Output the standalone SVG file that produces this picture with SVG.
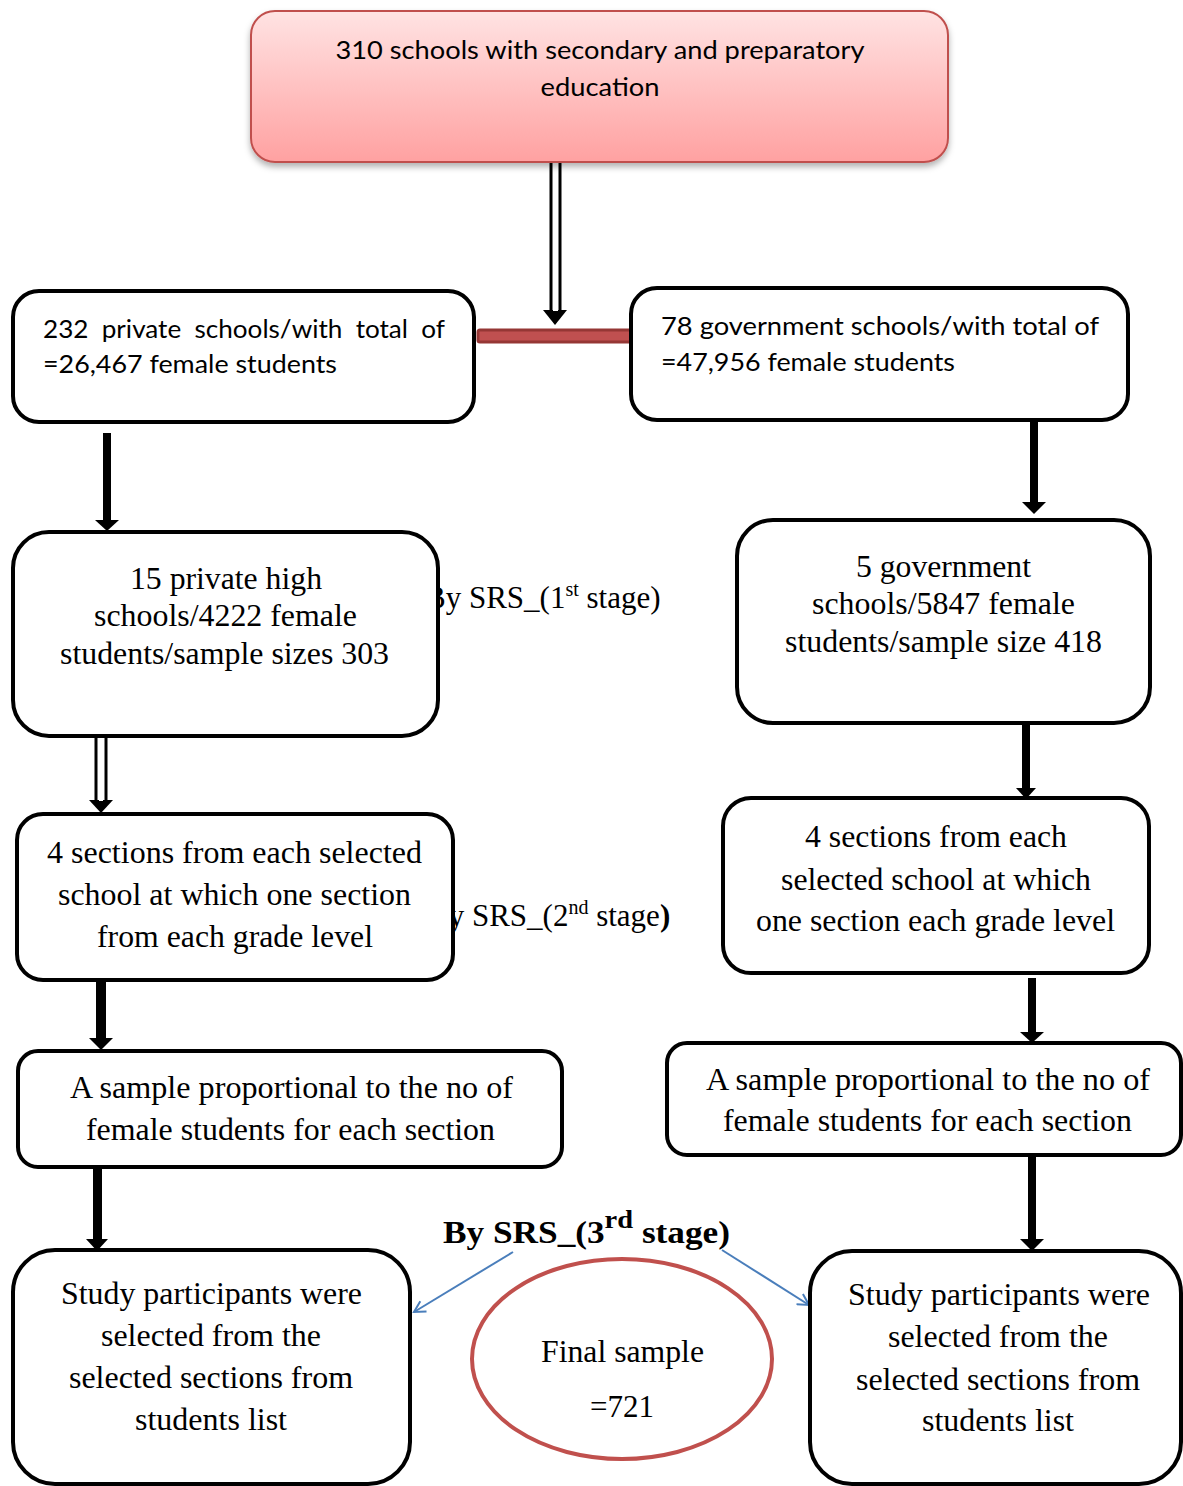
<svg xmlns="http://www.w3.org/2000/svg" width="1183" height="1486" viewBox="0 0 1183 1486">
<defs>
<linearGradient id="pink" x1="0" y1="0" x2="0" y2="1">
<stop offset="0" stop-color="#ffe3e3"/>
<stop offset="1" stop-color="#ffa1a1"/>
</linearGradient>
<filter id="sh" x="-5%" y="-10%" width="110%" height="130%">
<feDropShadow dx="0" dy="4" stdDeviation="3" flood-color="#000" flood-opacity="0.3"/>
</filter>
<marker id="blue" markerWidth="14" markerHeight="14" refX="12" refY="7" orient="auto" markerUnits="userSpaceOnUse">
<path d="M1,1 L12,7 L1,13" fill="none" stroke="#4a7ebb" stroke-width="2"/>
</marker>
</defs>
<style>
.box{fill:#fff;stroke:#000;stroke-width:4}
.cal{font-family:Lato,"Open Sans",sans-serif;font-size:25px;fill:#000}
.tm{font-family:"Liberation Serif","Times New Roman",serif;font-size:31px;fill:#000}
.c{text-anchor:middle}
.sh{fill:#000}
</style>
<rect width="1183" height="1486" fill="#fff"/>

<g id="labels">
<text class="tm" x="425" y="608">By SRS_(1<tspan font-size="20" dy="-12">st</tspan><tspan dy="12"> stage)</tspan></text>
<text class="tm" x="428" y="926">By SRS_(2<tspan font-size="20" dy="-12">nd</tspan><tspan dy="12"> stage</tspan><tspan font-weight="bold">)</tspan></text>
<text class="tm" x="443" y="1243" font-weight="bold" font-size="38" textLength="287" lengthAdjust="spacingAndGlyphs">By SRS_(3<tspan font-size="25" dy="-15">rd</tspan><tspan dy="15"> stage)</tspan></text>
</g>

<g id="connectors">
<rect x="551" y="160" width="9" height="152" fill="#fff" stroke="#000" stroke-width="3"/>
<polygon points="543,310 567,310 555,325" fill="#000"/>
<rect x="553" y="158" width="5" height="153" fill="#fff"/>
<rect x="478" y="330" width="154" height="12" rx="2" fill="#c05050" stroke="#953735" stroke-width="3"/>
<rect x="103" y="433" width="8" height="90" class="sh"/>
<polygon points="95,520 119,520 107,531" class="sh"/>
<rect x="1030" y="418" width="8" height="87" class="sh"/>
<polygon points="1022,502 1046,502 1034,514" class="sh"/>
<rect x="96" y="736" width="10" height="66" fill="#fff" stroke="#000" stroke-width="3"/>
<polygon points="89,800 113,800 101,813" class="sh"/>
<rect x="99" y="734" width="4" height="67" fill="#fff"/>
<rect x="1022" y="723" width="8" height="67" class="sh"/>
<polygon points="1016,788 1036,788 1026,799" class="sh"/>
<rect x="96" y="982" width="10" height="60" class="sh"/>
<polygon points="89,1038 113,1038 101,1050" class="sh"/>
<rect x="1028" y="978" width="8" height="57" class="sh"/>
<polygon points="1020,1032 1044,1032 1032,1043" class="sh"/>
<rect x="93" y="1168" width="9" height="73" class="sh"/>
<polygon points="86,1239 108,1239 97,1251" class="sh"/>
<rect x="1028" y="1155" width="8" height="86" class="sh"/>
<polygon points="1020,1239 1044,1239 1032,1251" class="sh"/>
<line x1="513" y1="1252" x2="414" y2="1312" stroke="#4a7ebb" stroke-width="2" marker-end="url(#blue)"/>
<line x1="722" y1="1250" x2="809" y2="1305" stroke="#4a7ebb" stroke-width="2" marker-end="url(#blue)"/>
</g>

<g id="n0">
<rect x="251" y="11" width="697" height="151" rx="24" fill="url(#pink)" stroke="#c0504d" stroke-width="2" filter="url(#sh)"/>
<text class="cal c" x="600" y="59" textLength="529" lengthAdjust="spacingAndGlyphs">310 schools with secondary and preparatory</text>
<text class="cal c" x="600" y="96" textLength="119" lengthAdjust="spacingAndGlyphs">education</text>
</g>

<g id="n1">
<rect class="box" x="13" y="291" width="461" height="131" rx="26"/>
<text class="cal" x="43" y="338" textLength="402" lengthAdjust="spacingAndGlyphs" xml:space="preserve">232  private  schools/with  total  of</text>
<text class="cal" x="43" y="373" textLength="294" lengthAdjust="spacingAndGlyphs">=26,467 female students</text>
</g>

<g id="n2">
<rect class="box" x="631" y="288" width="497" height="132" rx="26"/>
<text class="cal" x="661" y="335" textLength="438" lengthAdjust="spacingAndGlyphs">78 government schools/with total of</text>
<text class="cal" x="661" y="371" textLength="294" lengthAdjust="spacingAndGlyphs">=47,956 female students</text>
</g>

<g id="n3">
<rect class="box" x="13" y="532" width="425" height="204" rx="36"/>
<text class="tm" x="130" y="589" textLength="192" lengthAdjust="spacingAndGlyphs">15 private high</text>
<text class="tm" x="94" y="626" textLength="263" lengthAdjust="spacingAndGlyphs">schools/4222 female</text>
<text class="tm" x="60" y="664" textLength="329" lengthAdjust="spacingAndGlyphs">students/sample sizes 303</text>
</g>

<g id="n4">
<rect class="box" x="737" y="520" width="413" height="203" rx="36"/>
<text class="tm" x="856" y="577" textLength="175" lengthAdjust="spacingAndGlyphs">5 government</text>
<text class="tm" x="812" y="614" textLength="263" lengthAdjust="spacingAndGlyphs">schools/5847 female</text>
<text class="tm" x="785" y="652" textLength="317" lengthAdjust="spacingAndGlyphs">students/sample size 418</text>
</g>

<g id="n5">
<rect class="box" x="17" y="814" width="436" height="166" rx="26"/>
<text class="tm" x="47" y="863" textLength="375" lengthAdjust="spacingAndGlyphs">4 sections from each selected</text>
<text class="tm" x="58" y="905" textLength="353" lengthAdjust="spacingAndGlyphs">school at which one section</text>
<text class="tm" x="97" y="947" textLength="276" lengthAdjust="spacingAndGlyphs">from each grade level</text>
</g>

<g id="n6">
<rect class="box" x="723" y="798" width="426" height="175" rx="28"/>
<text class="tm" x="805" y="847" textLength="262" lengthAdjust="spacingAndGlyphs">4 sections from each</text>
<text class="tm" x="781" y="890" textLength="310" lengthAdjust="spacingAndGlyphs">selected school at which</text>
<text class="tm" x="756" y="931" textLength="359" lengthAdjust="spacingAndGlyphs">one section each grade level</text>
</g>

<g id="n7">
<rect class="box" x="18" y="1051" width="544" height="116" rx="20"/>
<text class="tm" x="70" y="1098" textLength="443" lengthAdjust="spacingAndGlyphs">A sample proportional to the no of</text>
<text class="tm" x="86" y="1140" textLength="409" lengthAdjust="spacingAndGlyphs">female students for each section</text>
</g>

<g id="n8">
<rect class="box" x="667" y="1043" width="514" height="112" rx="20"/>
<text class="tm" x="706" y="1090" textLength="444" lengthAdjust="spacingAndGlyphs">A sample proportional to the no of</text>
<text class="tm" x="723" y="1131" textLength="409" lengthAdjust="spacingAndGlyphs">female students for each section</text>
</g>

<g id="n9">
<rect class="box" x="13" y="1250" width="397" height="234" rx="42"/>
<text class="tm" x="61" y="1304" textLength="301" lengthAdjust="spacingAndGlyphs">Study participants were</text>
<text class="tm" x="101" y="1346" textLength="220" lengthAdjust="spacingAndGlyphs">selected from the</text>
<text class="tm" x="69" y="1388" textLength="284" lengthAdjust="spacingAndGlyphs">selected sections from</text>
<text class="tm" x="135" y="1430" textLength="152" lengthAdjust="spacingAndGlyphs">students list</text>
</g>

<g id="n10">
<rect class="box" x="810" y="1251" width="371" height="233" rx="42"/>
<text class="tm" x="848" y="1305" textLength="302" lengthAdjust="spacingAndGlyphs">Study participants were</text>
<text class="tm" x="888" y="1347" textLength="220" lengthAdjust="spacingAndGlyphs">selected from the</text>
<text class="tm" x="856" y="1390" textLength="284" lengthAdjust="spacingAndGlyphs">selected sections from</text>
<text class="tm" x="922" y="1431" textLength="152" lengthAdjust="spacingAndGlyphs">students list</text>
</g>

<g id="n11">
<ellipse cx="622" cy="1359" rx="150" ry="100" fill="#fff" stroke="#c0504d" stroke-width="4"/>
<text class="tm" x="541" y="1362" textLength="163" lengthAdjust="spacingAndGlyphs">Final sample</text>
<text class="tm" x="590" y="1417" textLength="64" lengthAdjust="spacingAndGlyphs">=721</text>
</g>
</svg>
